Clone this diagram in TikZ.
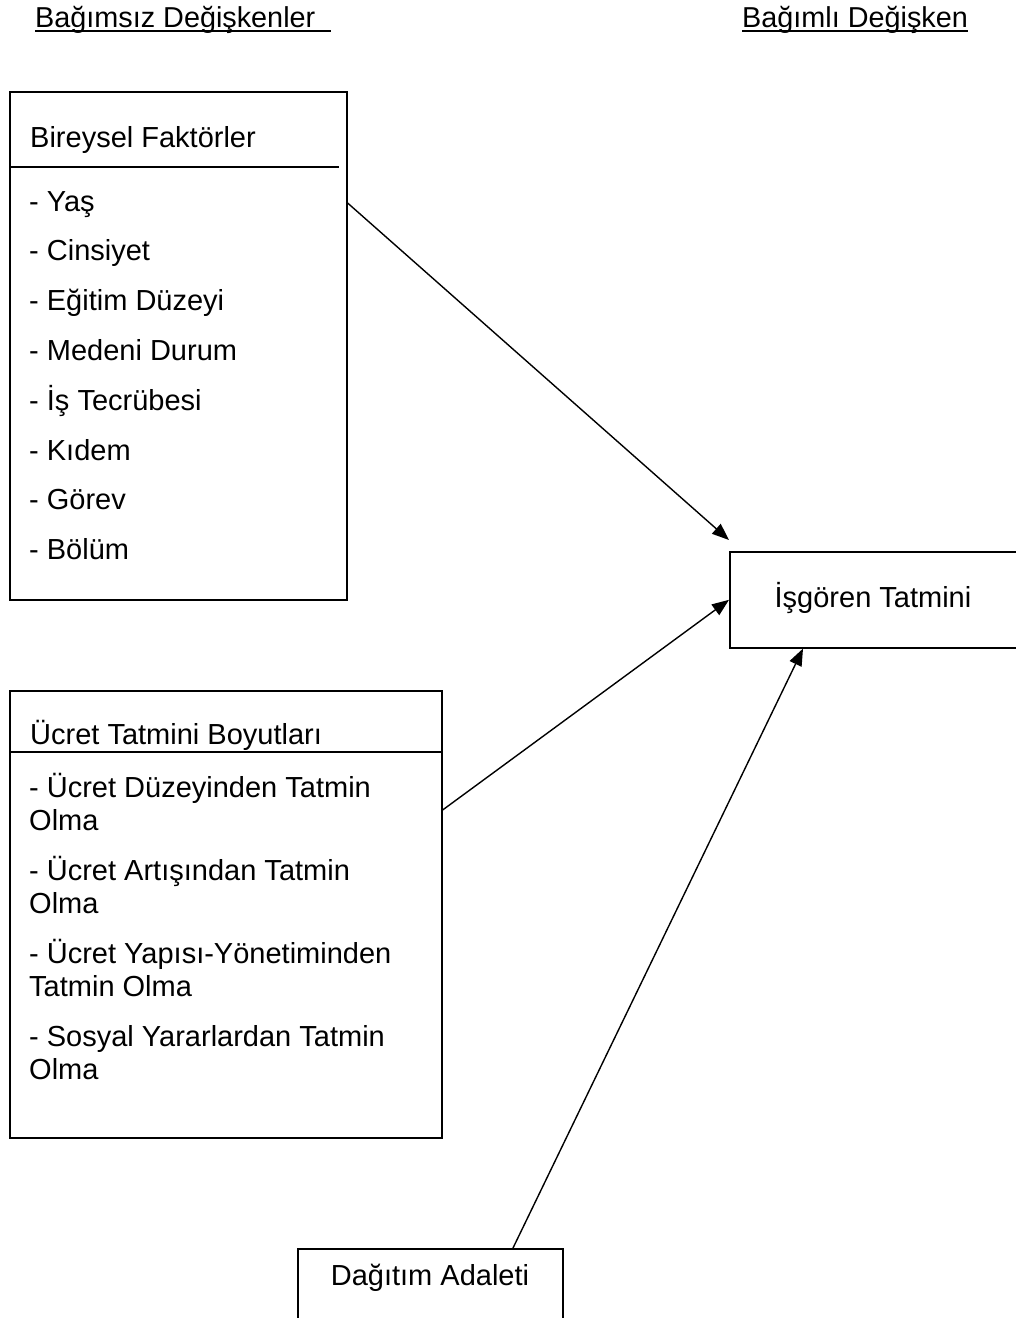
\documentclass[tikz,border=0pt]{standalone}
\usepackage{fontspec}
\setmainfont{Liberation Sans}
\usetikzlibrary{arrows.meta}
\begin{document}
\begin{tikzpicture}[x=1pt,y=-1pt,
  box/.style={draw,line width=1.6pt,inner sep=0pt,anchor=north west},
  txt/.style={inner sep=0pt,anchor=base west,font=\fontsize{29}{33}\selectfont},
  ctr/.style={inner sep=0pt,anchor=base,font=\fontsize{29}{33}\selectfont},
  hdr/.style={inner sep=0pt,anchor=base west,font=\fontsize{28.8}{33}\selectfont},
  uline/.style={line width=2.4pt},
  rule/.style={line width=1.6pt},
  arr/.style={line width=1.4pt,-{Triangle[length=17pt,width=13pt]}}]

\useasboundingbox (0,0) rectangle (1016,1318);
\clip (0,0) rectangle (1016,1318);

% column headings
\node[hdr] (hin) at (35,27) {Bağımsız Değişkenler};
\node[hdr] (hdep) at (742,27) {Bağımlı Değişken};
\draw[uline] ([yshift=-4pt]hin.base west) -- ([xshift=15pt,yshift=-4pt]hin.base east);
\draw[uline] ([yshift=-4pt]hdep.base west) -- ([yshift=-4pt]hdep.base east);

% individual factors
\node[box,minimum width=337pt,minimum height=508pt] (fac) at (9,91) {};
\node[txt] (factitle) at (30,147) {Bireysel Faktörler};
\draw[rule] ([yshift=-76pt]fac.north west) -- ([xshift=-9pt,yshift=-76pt]fac.north east);
\foreach \t [count=\i from 0] in {- Yaş,- Cinsiyet,- Eğitim Düzeyi,- Medeni Durum,- İş Tecrübesi,- Kıdem,- Görev,- Bölüm}
  \node[txt] (f\i) at (29,211+49.8*\i) {\t};

% pay satisfaction dimensions
\node[box,minimum width=432pt,minimum height=447pt] (pay) at (9,690) {};
\node[txt] (paytitle) at (30,744) {Ücret Tatmini Boyutları};
\draw[rule] ([yshift=-62pt]pay.north west) -- ([yshift=-62pt]pay.north east);
\node[txt] (p1a) at (29,797) {- Ücret Düzeyinden Tatmin};
\node[txt] (p1b) at (29,830) {Olma};
\node[txt] (p2a) at (29,880) {- Ücret Artışından Tatmin};
\node[txt] (p2b) at (29,913) {Olma};
\node[txt] (p3a) at (29,963) {- Ücret Yapısı-Yönetiminden};
\node[txt] (p3b) at (29,996) {Tatmin Olma};
\node[txt] (p4a) at (29,1046) {- Sosyal Yararlardan Tatmin};
\node[txt] (p4b) at (29,1079) {Olma};

% dependent variable
\node[box,minimum width=290pt,minimum height=96pt] (sat) at (729,551) {};
\node[ctr] (sattxt) at (873,607) {İşgören Tatmini};

% distributive justice
\node[box,minimum width=265pt,minimum height=100pt] (dist) at (297,1248) {};
\node[ctr] (disttxt) at (430,1285) {Dağıtım Adaleti};

% relations
\draw[arr] ([yshift=-112pt]fac.north east) -- ([yshift=11pt]sat.north west);
\draw[arr] ([yshift=-120pt]pay.north east) -- (sat.west);
\draw[arr] ([xshift=216pt]dist.north west) -- ([xshift=74pt]sat.south west);
\end{tikzpicture}
\end{document}
